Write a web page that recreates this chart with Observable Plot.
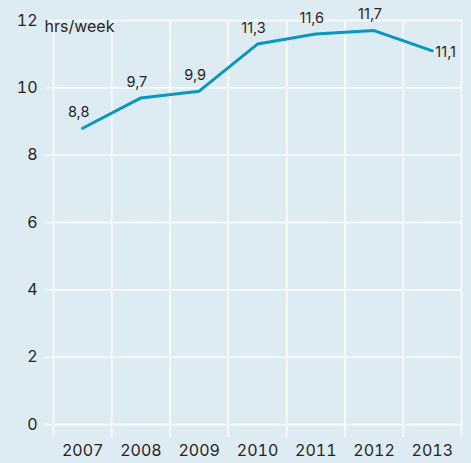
<!DOCTYPE html>
<html><head><meta charset="utf-8">
<script src="https://cdn.jsdelivr.net/npm/d3@7"></script>
<script src="https://cdn.jsdelivr.net/npm/@observablehq/plot@0.6"></script>
<style>
html,body{margin:0;padding:0;background:#ddecf3;}
</style></head><body><div id="chart"></div>
<script>
const years = [2007, 2008, 2009, 2010, 2011, 2012, 2013];
const hours = [8.8, 9.7, 9.9, 11.3, 11.6, 11.7, 11.1];
const yTicks = [0, 2, 4, 6, 8, 10, 12];
const unitLabel = "hrs/week";

const data = years.map((year, i) => ({year, hours: hours[i], label: String(hours[i]).replace(".", ",")}));
const last = years[years.length - 1];
const boundaries = [...years.map(y => y - 0.5), last + 0.5];

const chart = Plot.plot({
  width: 471, height: 463,
  marginLeft: 53, marginRight: 10, marginTop: 20, marginBottom: 39,
  style: {background: "#ddecf3", fontFamily: "Inter, 'Liberation Sans', Arial, sans-serif", fontSize: "16px", color: "#2a241e"},
  x: {domain: [years[0] - 0.5, last + 0.5], label: null},
  y: {domain: [0, 12], label: null},
  marks: [
    Plot.ruleX(boundaries, {stroke: "white", strokeWidth: 1.5, insetBottom: -13}),
    Plot.ruleY(yTicks, {stroke: "white", strokeWidth: 1.5, insetLeft: -8}),
    Plot.axisX({ticks: years, tickSize: 0, tickPadding: 20, tickFormat: d => String(d), label: null, fontSize: 16}),
    Plot.axisY({ticks: yTicks, tickSize: 0, tickPadding: 16, label: null, fontSize: 16}),
    Plot.text([unitLabel], {frameAnchor: "top-left", text: d => d, textAnchor: "start", dx: -9, fill: "#2a241e", fontSize: 16}),
    Plot.line(data, {x: "year", y: "hours", stroke: "#0a97b9", strokeWidth: 3}),
    Plot.text(data.filter(d => d.year !== last), {x: "year", y: "hours", text: "label", dy: -16, dx: -4, fontSize: 14.5, fill: "#2a241e"}),
    Plot.text(data.filter(d => d.year === last), {x: "year", y: "hours", text: "label", textAnchor: "start", dx: 3, dy: 2, fontSize: 14.5, fill: "#2a241e"})
  ]
});
document.getElementById("chart").append(chart);
</script></body></html>
